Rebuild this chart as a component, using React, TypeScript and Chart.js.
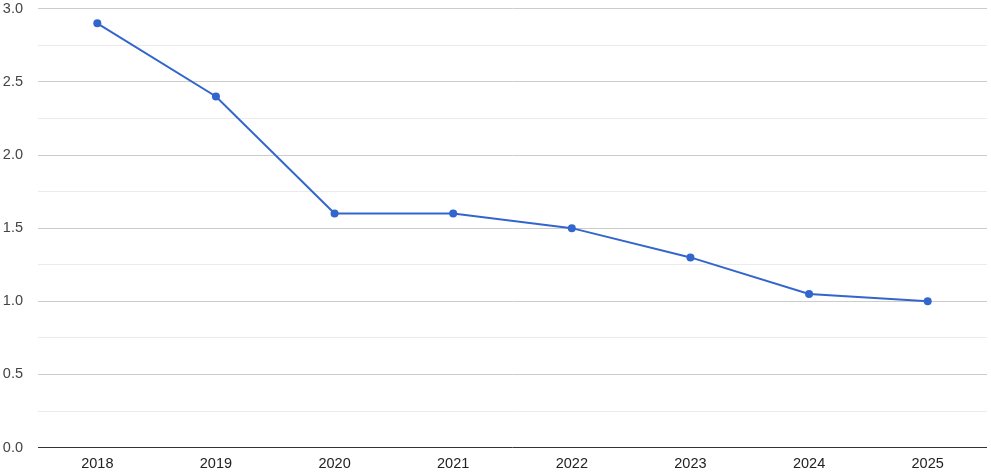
import React, { useEffect, useRef } from "react";
import { Chart, registerables } from "chart.js";

Chart.register(...registerables);

const years: string[] = ["2018", "2019", "2020", "2021", "2022", "2023", "2024", "2025"];
const values: number[] = [2.9, 2.4, 1.6, 1.6, 1.5, 1.3, 1.05, 1.0];
const yMin = 0;
const yMax = 3;
const yStep = 0.25;

const SHIFT = 15;

export default function App() {
  const ref = useRef<HTMLCanvasElement | null>(null);

  useEffect(() => {
    document.body.style.margin = "0";
    const ctx = ref.current!.getContext("2d")!;
    const chart = new Chart(ctx, {
      type: "line",
      data: {
        labels: years,
        datasets: [
          {
            data: values,
            borderColor: "#3366cc",
            backgroundColor: "#3366cc",
            borderWidth: 2,
            pointRadius: 4,
            pointBorderWidth: 0,
            pointBackgroundColor: "#3366cc",
            tension: 0,
          },
        ],
      },
      options: {
        animation: false,
        responsive: false,
        maintainAspectRatio: false,
        layout: { padding: { top: 0, right: 4, bottom: -7, left: 0 } },
        plugins: { legend: { display: false }, tooltip: { enabled: false } },
        scales: {
          x: {
            offset: true,
            grid: { display: false, drawTicks: false },
            border: { display: false },
            ticks: {
              padding: 8,
              color: "#222",
              font: { family: "'Liberation Sans', Arial, sans-serif", size: 14.5 },
            },
          },
          y: {
            min: yMin,
            max: yMax,
            afterFit: (scale: any) => {
              scale.width = 38;
            },
            border: { display: false },
            grid: {
              drawTicks: false,
              color: (c: any) => {
                const v = c.tick ? c.tick.value : 0;
                if (Math.abs(v) < 1e-9) return "#333333";
                return Math.abs(v * 2 - Math.round(v * 2)) < 1e-9 ? "#cccccc" : "#ebebeb";
              },
              lineWidth: 1,
            },
            ticks: {
              stepSize: yStep,
              padding: 15,
              color: "#444",
              font: { family: "'Liberation Sans', Arial, sans-serif", size: 14.5 },
              callback: (v: any) => {
                const n = Number(v);
                return Math.abs(n * 2 - Math.round(n * 2)) < 1e-9 ? n.toFixed(1) : "";
              },
            },
          },
        },
      },
    });
    return () => chart.destroy();
  }, []);

  return (
    <div style={{ width: 991, height: 474, overflow: "hidden" }}>
      <canvas
        ref={ref}
        width={991}
        height={474 + SHIFT}
        style={{ display: "block", marginTop: -SHIFT }}
      />
    </div>
  );
}
